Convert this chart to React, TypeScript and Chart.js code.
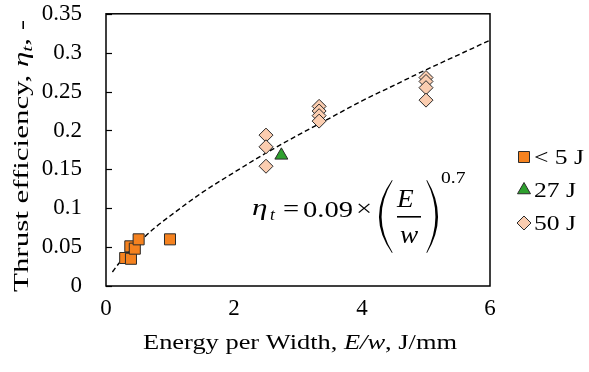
import React, { useEffect, useRef } from 'react';
import { Chart, registerables } from 'chart.js';

Chart.register(...registerables);

// ---- data ----
const seriesLabels = ['< 5 J', '27 J', '50 J'];

const lowEnergyX = [0.30, 0.39, 0.38, 0.45, 0.51, 1.0];
const lowEnergyY = [0.036, 0.035, 0.051, 0.048, 0.060, 0.060];

const midEnergyX = [2.74];
const midEnergyY = [0.168];

const highEnergyX = [2.5, 2.5, 2.5, 3.33, 3.33, 3.33, 3.33, 5, 5, 5, 5];
const highEnergyY = [0.194, 0.179, 0.154, 0.231, 0.225, 0.219, 0.212, 0.268, 0.263, 0.255, 0.239];

// fitted trend curve
const fitX = [0.1, 0.2, 0.3, 0.5, 0.75, 1, 1.5, 2, 2.5, 3, 3.5, 4, 4.5, 5, 5.5, 6];
const fitY = [0.018, 0.029, 0.039, 0.055, 0.074, 0.090, 0.120, 0.146, 0.171, 0.194, 0.216, 0.238, 0.258, 0.278, 0.297, 0.316];

const xTickLabels = ['0', '2', '4', '6'];
const yTickLabels = ['0', '0.05', '0.1', '0.15', '0.2', '0.25', '0.3', '0.35'];

const SERIF = '"Liberation Serif", serif';
const COLORS = {
  low: '#F5821F',
  mid: '#2EA02E',
  high: '#FBCDB0',
  edge: '#2b2b2b',
};

type Part = { text: string; size: number; italic?: boolean; dy?: number };

function fontOf(p: Part) {
  return `${p.italic ? 'italic ' : ''}${p.size}px ${SERIF}`;
}

function drawRich(
  ctx: CanvasRenderingContext2D,
  parts: Part[],
  cx: number,
  baseline: number,
  length: number,
  rotate = 0
) {
  let total = 0;
  const widths = parts.map((p) => {
    ctx.font = fontOf(p);
    const w = ctx.measureText(p.text).width;
    total += w;
    return w;
  });
  const k = length / total;
  ctx.save();
  ctx.translate(cx, baseline);
  if (rotate) ctx.rotate(rotate);
  ctx.scale(k, 1);
  ctx.fillStyle = '#000';
  ctx.textAlign = 'left';
  ctx.textBaseline = 'alphabetic';
  let x = -total / 2;
  parts.forEach((p, i) => {
    ctx.font = fontOf(p);
    ctx.fillText(p.text, x, p.dy || 0);
    x += widths[i];
  });
  ctx.restore();
}

function drawStretched(
  ctx: CanvasRenderingContext2D,
  text: string,
  x: number,
  baseline: number,
  font: string,
  k: number
) {
  ctx.save();
  ctx.translate(x, baseline);
  ctx.scale(k, 1);
  ctx.font = font;
  ctx.fillStyle = '#000';
  ctx.textAlign = 'left';
  ctx.textBaseline = 'alphabetic';
  ctx.fillText(text, 0, 0);
  ctx.restore();
}

function paren(ctx: CanvasRenderingContext2D, xTip: number, xMid: number, yTop: number, yBot: number, thick: number) {
  const ym = (yTop + yBot) / 2;
  const dir = Math.sign(xTip - xMid);
  const cOuter = 2 * xMid - xTip;
  const cInner = 2 * (xMid + dir * thick) - xTip;
  ctx.beginPath();
  ctx.moveTo(xTip, yTop);
  ctx.quadraticCurveTo(cOuter, ym, xTip, yBot);
  ctx.lineTo(xTip + dir * 0.6, yBot - 0.5);
  ctx.quadraticCurveTo(cInner, ym, xTip + dir * 0.6, yTop + 0.5);
  ctx.closePath();
  ctx.fillStyle = '#000';
  ctx.fill();
}

function drawMarker(ctx: CanvasRenderingContext2D, kind: string, x: number, y: number, fill: string) {
  ctx.beginPath();
  if (kind === 'rect') {
    ctx.rect(x - 5.5, y - 5.5, 11, 11);
  } else if (kind === 'triangle') {
    const r = 7.5;
    ctx.moveTo(x, y - r);
    ctx.lineTo(x + r * Math.sin(Math.PI / 3), y + r / 2);
    ctx.lineTo(x - r * Math.sin(Math.PI / 3), y + r / 2);
    ctx.closePath();
  } else {
    const r = 7;
    ctx.moveTo(x, y - r);
    ctx.lineTo(x + r, y);
    ctx.lineTo(x, y + r);
    ctx.lineTo(x - r, y);
    ctx.closePath();
  }
  ctx.fillStyle = fill;
  ctx.fill();
  ctx.lineWidth = 1;
  ctx.strokeStyle = COLORS.edge;
  ctx.stroke();
}

const decorations = {
  id: 'decorations',
  beforeDatasetsDraw(chart: any) {
    const { ctx, chartArea } = chart;
    const { left, right, top, bottom } = chartArea;
    ctx.save();
    ctx.strokeStyle = '#000';
    ctx.lineWidth = 1.5;
    ctx.strokeRect(left, top, right - left, bottom - top);
    // inward tick marks on the value axis
    const ys = chart.scales.y;
    ctx.lineWidth = 1.2;
    ys.ticks.forEach((t: any) => {
      const py = Math.round(ys.getPixelForValue(t.value)) + 0.5;
      ctx.beginPath();
      ctx.moveTo(left, py);
      ctx.lineTo(left + 6, py);
      ctx.stroke();
    });
    ctx.restore();
  },
  afterDraw(chart: any) {
    const { ctx, chartArea } = chart;
    const { left, right } = chartArea;
    ctx.save();

    // axis titles
    drawRich(
      ctx,
      [
        { text: 'Energy per Width, ', size: 22 },
        { text: 'E/w', size: 22, italic: true },
        { text: ', J/mm', size: 22 },
      ],
      (left + right) / 2 + 2,
      349,
      314
    );
    drawRich(
      ctx,
      [
        { text: 'Thrust efficiency, ', size: 22 },
        { text: 'η', size: 22, italic: true },
        { text: 't', size: 15, italic: true, dy: 4 },
        { text: ', -', size: 22 },
      ],
      28,
      156,
      272,
      -Math.PI / 2
    );

    // equation annotation
    const ox = left;
    const oy = 13;
    const k = 1.19;
    drawStretched(ctx, 'η', ox + 146, oy + 202, `italic 24px ${SERIF}`, 1.3);
    drawStretched(ctx, 't', ox + 164, oy + 207, `italic 16px ${SERIF}`, 1.1);
    drawStretched(ctx, '=', ox + 177, oy + 203, `24px ${SERIF}`, k);
    drawStretched(ctx, '0.09', ox + 197, oy + 204, `24px ${SERIF}`, k);
    drawStretched(ctx, '×', ox + 250, oy + 203, `24px ${SERIF}`, k);
    paren(ctx, ox + 286, ox + 273, oy + 167, oy + 240, 2.3);
    drawStretched(ctx, 'E', ox + 291, oy + 194, `italic 26px ${SERIF}`, 1.05);
    ctx.fillStyle = '#000';
    ctx.fillRect(ox + 291, oy + 203, 24, 1.6);
    drawStretched(ctx, 'w', ox + 294, oy + 230, `italic 26px ${SERIF}`, 1.05);
    paren(ctx, ox + 321, ox + 332, oy + 167, oy + 240, 2.3);
    drawStretched(ctx, '0.7', ox + 335, oy + 170, `17px ${SERIF}`, 1.15);

    // legend
    const items = [
      { label: seriesLabels[0], kind: 'rect', fill: COLORS.low, base: 164 },
      { label: seriesLabels[1], kind: 'triangle', fill: COLORS.mid, base: 197 },
      { label: seriesLabels[2], kind: 'rectRot', fill: COLORS.high, base: 230 },
    ];
    items.forEach((it) => {
      drawMarker(ctx, it.kind, right + 34, it.base - 7, it.fill);
      drawStretched(ctx, it.label, right + 44, it.base, `21px ${SERIF}`, 1.22);
    });

    ctx.restore();
  },
};

function toPoints(xs: number[], ys: number[]) {
  return xs.map((x, i) => ({ x, y: ys[i] }));
}

export default function App() {
  const canvasRef = useRef<HTMLCanvasElement | null>(null);

  useEffect(() => {
    const canvas = canvasRef.current;
    if (!canvas) return;
    const tickFont = { family: SERIF, size: 23 };
    const chart = new Chart(canvas, {
      type: 'scatter',
      data: {
        datasets: [
          {
            label: 'fit',
            data: toPoints(fitX, fitY),
            showLine: true,
            borderColor: '#000',
            borderWidth: 1.4,
            borderDash: [5, 3],
            pointRadius: 0,
            cubicInterpolationMode: 'monotone',
            order: 5,
          } as any,
          {
            label: seriesLabels[0],
            data: toPoints(lowEnergyX, lowEnergyY),
            pointStyle: 'rect',
            pointRadius: 7.8,
            backgroundColor: COLORS.low,
            borderColor: COLORS.edge,
            borderWidth: 1,
            order: 1,
          },
          {
            label: seriesLabels[1],
            data: toPoints(midEnergyX, midEnergyY),
            pointStyle: 'triangle',
            pointRadius: 7.5,
            backgroundColor: COLORS.mid,
            borderColor: COLORS.edge,
            borderWidth: 1,
            order: 1,
          },
          {
            label: seriesLabels[2],
            data: toPoints(highEnergyX, highEnergyY),
            pointStyle: 'rectRot',
            pointRadius: 7,
            backgroundColor: COLORS.high,
            borderColor: COLORS.edge,
            borderWidth: 1,
            order: 1,
          },
        ],
      },
      options: {
        responsive: false,
        animation: false,
        layout: { padding: { top: 13, right: 99, left: 0, bottom: 0 } },
        plugins: {
          legend: { display: false },
          tooltip: { enabled: false },
        },
        scales: {
          x: {
            type: 'linear',
            min: 0,
            max: 6,
            ticks: {
              stepSize: 2,
              padding: 0,
              color: '#000',
              font: tickFont,
              callback: (v: any) => xTickLabels[Math.round(Number(v) / 2)] ?? '',
            },
            grid: { display: false, drawTicks: true, tickLength: 9 },
            border: { display: false },
            afterFit: (s: any) => {
              s.height = 86;
            },
          },
          y: {
            type: 'linear',
            min: 0,
            max: 0.35,
            ticks: {
              stepSize: 0.05,
              padding: 0,
              color: '#000',
              font: tickFont,
              callback: (v: any) => yTickLabels[Math.round(Number(v) / 0.05)] ?? '',
            },
            grid: { display: false, drawTicks: true, tickLength: 24 },
            border: { display: false },
            afterFit: (s: any) => {
              s.width = 106;
            },
          },
        },
      },
      plugins: [decorations],
    });
    return () => chart.destroy();
  }, []);

  return (
    <div style={{ position: 'fixed', left: 0, top: 0, width: 589, height: 372, background: '#fff', fontFamily: '"Liberation Serif", serif' }}>
      <canvas ref={canvasRef} width={589} height={372} style={{ display: 'block', position: 'absolute', left: 0, top: 0, width: 589, height: 372 }} />
    </div>
  );
}
